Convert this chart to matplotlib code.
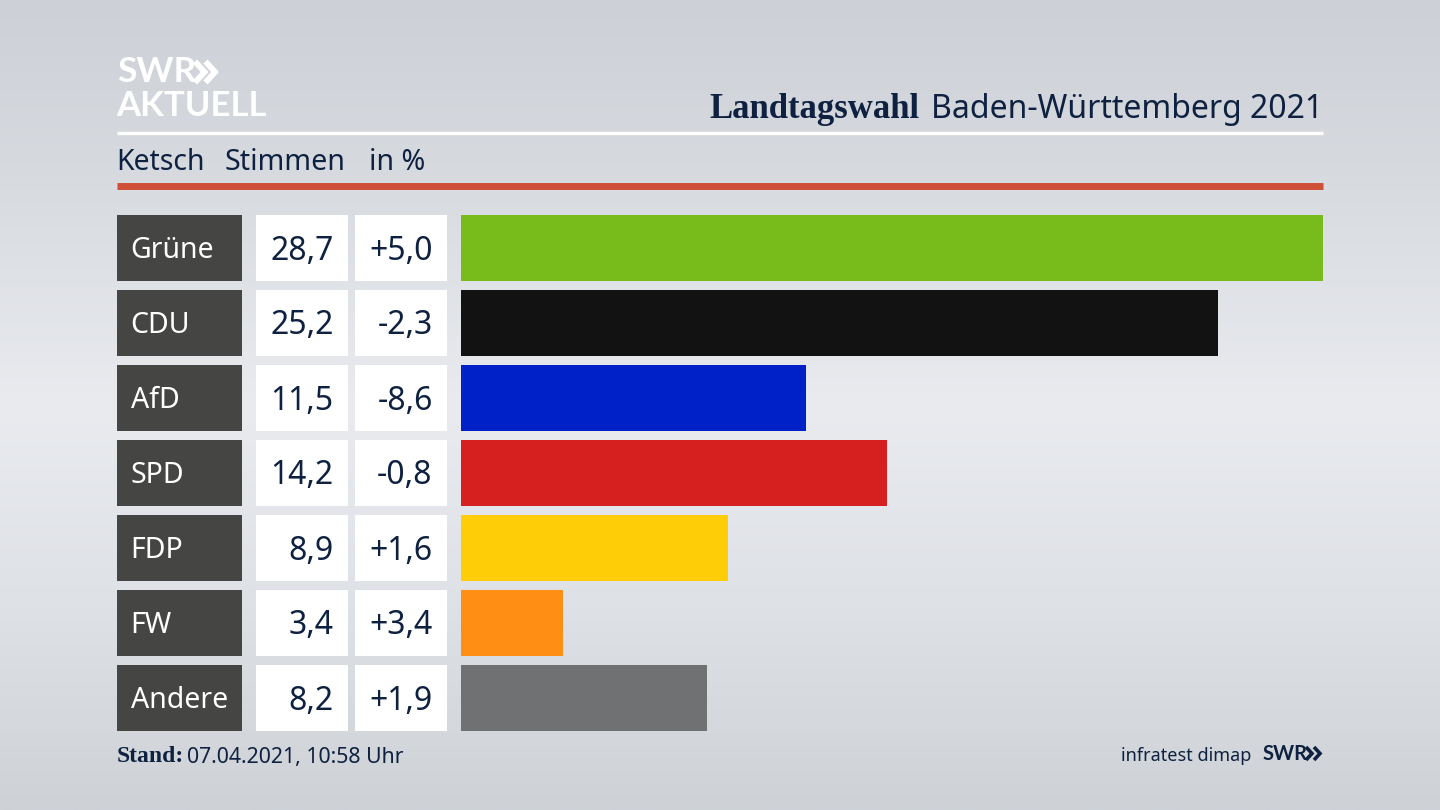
import matplotlib
matplotlib.use('Agg')
import matplotlib.pyplot as plt
import numpy as np

parties = ['Grüne', 'CDU', 'AfD', 'SPD', 'FDP', 'FW', 'Andere']
votes = [28.7, 25.2, 11.5, 14.2, 8.9, 3.4, 8.2]
changes = ['+5,0', '-2,3', '-8,6', '-0,8', '+1,6', '+3,4', '+1,9']
colors = ['#78bc1b', '#121212', '#0021c7', '#d6201f', '#ffcc08', '#ff8f14', '#707172']

W, H = 1440.0, 810.0
NAVY = '#0f2140'
DARK = '#454543'
FONT = 'Noto Sans'
LOGO = 'Lato'
SERIF = 'Liberation Serif'

plt.rcParams['font.family'] = FONT

def px_axes(fig, x0, x1, y0, y1):
  return fig.add_axes([x0 / W, 1 - y1 / H, (x1 - x0) / W, (y1 - y0) / H])

def fmt(v):
  return '{:.1f}'.format(v).replace('.', ',')

fig = plt.figure(figsize=(14.4, 8.1), dpi=100)

# page background, darker at top and bottom
bg = px_axes(fig, 0, W, 0, H)
stops = np.array([[205, 209, 215], [214, 217, 222], [233, 235, 239], [222, 225, 230], [206, 210, 215]]) / 255.0
rows = np.array([np.interp(np.linspace(0, 1, 405), [0, 0.2, 0.5, 0.75, 1], stops[:, i]) for i in range(3)]).T
bg.imshow(rows[:, None, :], aspect='auto', extent=(0, W, H, 0), interpolation='bilinear')
bg.set_xlim(0, W)
bg.set_ylim(H, 0)
bg.axis('off')

# header and footer, in pixel coordinates of the page
bg.text(117, 82, 'SWR', color='white', fontsize=25.5, fontfamily=LOGO, fontweight='bold', va='baseline', ha='left')
for x in [195, 205.5]:
  bg.plot([x, x + 9.5, x], [61.5, 72, 82.5], color='white', lw=4.2, solid_joinstyle='miter', solid_capstyle='butt')
bg.text(116, 116, 'AKTUELL', color='white', fontsize=25, fontfamily=LOGO, fontweight='bold', va='baseline', ha='left')
bg.plot([117, 1323], [133, 133], color='white', lw=2.4, solid_capstyle='butt')
bg.plot([117, 1323], [185.5, 185.5], color='#cf5037', lw=5, solid_capstyle='butt')

bg.text(709.5, 109, 'Landtagswahl', color=NAVY, fontsize=25, fontfamily=SERIF, fontweight='bold', va='center', ha='left')
bg.text(1323, 109, 'Baden-Württemberg 2021', color=NAVY, fontsize=23, va='center', ha='right')
bg.text(116, 163, 'Ketsch', color=NAVY, fontsize=20.4, va='center', ha='left')
bg.text(225, 163, 'Stimmen', color=NAVY, fontsize=20.6, va='center', ha='left')
bg.text(369, 163, 'in %', color=NAVY, fontsize=20.6, va='center', ha='left')

bg.text(117, 757, 'Stand:', color=NAVY, fontsize=17, fontfamily=SERIF, fontweight='bold', va='center', ha='left')
bg.text(187, 757, '07.04.2021, 10:58 Uhr', color=NAVY, fontsize=15.3, va='center', ha='left')
bg.text(1251, 756, 'infratest dimap', color=NAVY, fontsize=13, va='center', ha='right')
bg.text(1263, 760, 'SWR', color=NAVY, fontsize=14.5, fontfamily=LOGO, fontweight='bold', va='baseline', ha='left')
for x in [1306, 1314]:
  bg.plot([x, x + 6, x], [747, 753.5, 760], color=NAVY, lw=2.6, solid_joinstyle='miter', solid_capstyle='butt')

# table columns and bars share the same row scale
ypos = np.arange(len(parties))
bar_h = 66.0 / 75.0
top, bottom = 215, 731

def column(x0, x1, color, xmax=1.0, widths=None):
  ax = px_axes(fig, x0, x1, top, bottom)
  ax.barh(ypos, widths if widths is not None else [xmax] * len(ypos), height=bar_h, color=color, linewidth=0)
  ax.set_xlim(0, xmax)
  ax.set_ylim(len(ypos) - 1 + bar_h / 2, -bar_h / 2)
  ax.axis('off')
  return ax

ax_party = column(117, 241.5, DARK)
ax_votes = column(255.5, 348, 'white')
ax_change = column(355, 447, 'white')
ax_bars = column(461, 1323, colors, xmax=max(votes), widths=votes)

for i in ypos:
  ax_party.text(0.11, i + 0.03, parties[i], color='white', fontsize=20.5, va='center', ha='left')
  ax_votes.text(0.845, i + 0.04, fmt(votes[i]), color=NAVY, fontsize=23, va='center', ha='right')
  ax_change.text(0.845, i + 0.04, changes[i], color=NAVY, fontsize=23, va='center', ha='right')

fig.savefig('out.png', dpi=100)
